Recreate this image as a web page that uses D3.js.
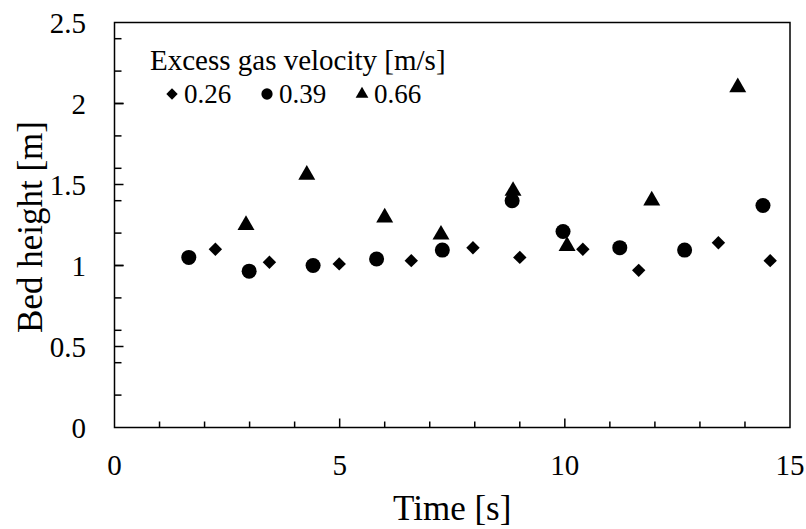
<!DOCTYPE html>
<meta charset="utf-8">
<body>
<script src="https://cdn.jsdelivr.net/npm/d3@7"></script>
<style>
    html, body {
        margin: 0;
        background: #fff;
    }
    text {
        font-family: "Liberation Serif", "Times New Roman", serif;
        fill: #000;
    }
</style>
<script>
// Excess gas velocity 0.26 m/s
var t026 = [2.24, 3.44, 4.99, 6.59, 7.96, 9.00, 10.40, 11.64, 13.41, 14.56],
    h026 = [1.10, 1.02, 1.01, 1.03, 1.11, 1.05, 1.10, 0.97, 1.14, 1.03];
// 0.39 m/s
var t039 = [1.65, 2.99, 4.41, 5.82, 7.28, 8.83, 9.96, 11.22, 12.66, 14.40],
    h039 = [1.05, 0.965, 1.00, 1.04, 1.095, 1.40, 1.21, 1.11, 1.095, 1.37];
// 0.66 m/s
var t066 = [2.92, 4.27, 6.00, 7.25, 8.85, 10.05, 11.93, 13.84],
    h066 = [1.265, 1.575, 1.31, 1.205, 1.475, 1.135, 1.415, 2.115];

var xTicks = [0, 5, 10, 15],
    yTicks = [0, 0.5, 1, 1.5, 2, 2.5],
    legendLabels = ["0.26", "0.39", "0.66"];

var width = 806,
    height = 529,
    pl = 114.5,
    pr = 790,
    pt = 22.5,
    pb = 427.5;

var x = d3.scaleLinear().domain([0, 15]).range([pl, pr]),
    y = d3.scaleLinear().domain([0, 2.5]).range([pb, pt]);

var svg = d3.select("body").append("svg")
    .attr("width", width)
    .attr("height", height);

// frame
svg.append("rect")
    .attr("x", pl).attr("y", pt)
    .attr("width", pr - pl).attr("height", pb - pt)
    .attr("fill", "none").attr("stroke", "#000").attr("stroke-width", 1.5);

// x ticks, pointing inward
svg.append("g").selectAll("line")
    .data(d3.range(1, 15))
    .enter().append("line")
    .attr("x1", function(d) { return x(d); })
    .attr("x2", function(d) { return x(d); })
    .attr("y1", pb)
    .attr("y2", function(d) { return pb - (d % 5 === 0 ? 9 : 6); })
    .attr("stroke", "#000").attr("stroke-width", 1.5);

// y ticks: minor every 0.2, major every 0.5
var yMinor = d3.range(1, 13).map(function(i) { return +(i * 0.2).toFixed(1); });
svg.append("g").selectAll("line")
    .data(yMinor.concat(yTicks.slice(1, 5)))
    .enter().append("line")
    .attr("y1", function(d) { return y(d); })
    .attr("y2", function(d) { return y(d); })
    .attr("x1", pl)
    .attr("x2", function(d) { return pl + (Math.round(d * 10) % 5 === 0 ? 9 : 7); })
    .attr("stroke", "#000").attr("stroke-width", 1.5);

svg.append("g").selectAll("text")
    .data(xTicks)
    .enter().append("text")
    .attr("x", function(d) { return x(d); })
    .attr("y", 475)
    .attr("text-anchor", "middle")
    .style("font-size", "29px")
    .text(function(d) { return d; });

svg.append("g").selectAll("text")
    .data(yTicks)
    .enter().append("text")
    .attr("x", 86)
    .attr("y", function(d) { return y(d) + 10; })
    .attr("text-anchor", "end")
    .style("font-size", "29px")
    .text(function(d) { return d; });

svg.append("text")
    .attr("x", (pl + pr) / 2)
    .attr("y", 520)
    .attr("text-anchor", "middle")
    .style("font-size", "35px")
    .text("Time [s]");

svg.append("text")
    .attr("transform", "translate(42," + ((pt + pb) / 2 + 2) + ")rotate(-90)")
    .attr("text-anchor", "middle")
    .style("font-size", "35px")
    .text("Bed height [m]");

var diamond = d3.symbol().type(d3.symbolSquare).size(90),
    circle = d3.symbol().type(d3.symbolCircle).size(177),
    triangle = d3.symbol().type(d3.symbolTriangle).size(125);

function plot(ts, hs, sym, rot, dy) {
    svg.append("g").selectAll("path")
        .data(ts)
        .enter().append("path")
        .attr("d", sym)
        .attr("transform", function(d, i) {
            return "translate(" + x(d) + "," + (y(hs[i]) + dy) + ")rotate(" + rot + ")";
        })
        .attr("fill", "#000");
}

plot(t026, h026, diamond, 45, 0);
plot(t039, h039, circle, 0, 0);
plot(t066, h066, triangle, 0, 2.4);

// legend
svg.append("text")
    .attr("x", 150)
    .attr("y", 70)
    .style("font-size", "29px")
    .text("Excess gas velocity [m/s]");

var legendSyms = [[diamond, 45], [circle, 0], [triangle, 0]],
    legendX = [172, 267, 362];

var lg = svg.append("g").selectAll("g")
    .data(legendLabels)
    .enter().append("g")
    .attr("transform", function(d, i) { return "translate(" + legendX[i] + ",94)"; });

lg.append("path")
    .attr("d", function(d, i) { return legendSyms[i][0](); })
    .attr("transform", function(d, i) {
        return "rotate(" + legendSyms[i][1] + ")scale(" + (i === 0 ? 0.85 : 0.75) + ")";
    })
    .attr("fill", "#000");

lg.append("text")
    .attr("x", 12)
    .attr("y", 9)
    .style("font-size", "27px")
    .text(function(d) { return d; });
</script>
